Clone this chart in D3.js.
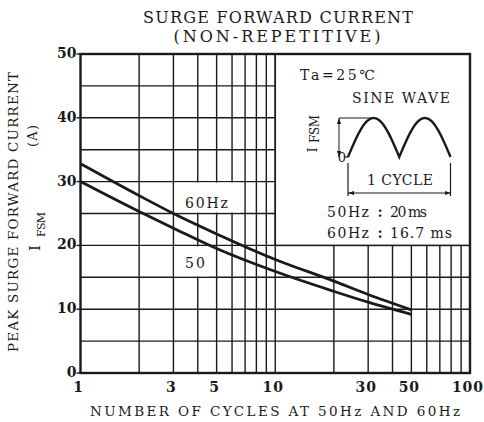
<!DOCTYPE html>
<html>
<head>
<meta charset="utf-8">
<script src="https://cdn.jsdelivr.net/npm/d3@7"></script>
<style>
  body { margin: 0; background: #fff; }
  svg text { font-family: "DejaVu Serif", "Liberation Serif", serif; fill: #1a1a1a; }
</style>
</head>
<body>
<svg id="chart" width="484" height="422"></svg>
<script>
// values
const cycles   = [1, 2, 3, 5, 10, 20, 30, 50];
const amps60   = [32.8, 27.8, 25.0, 21.8, 17.8, 14.4, 12.3, 9.9];
const amps50   = [30.0, 25.3, 22.7, 19.5, 15.9, 12.8, 11.1, 9.2];
const xTicks   = [1, 3, 5, 10, 30, 50, 100];
const xGrid    = [2, 3, 4, 5, 6, 7, 8, 9, 10, 20, 30, 40, 50, 60, 70, 80, 90];
const yTicks   = [0, 10, 20, 30, 40, 50];
const yGrid    = [5, 10, 15, 20, 25, 30, 35, 40, 45];

const svg = d3.select("#chart");
const x = d3.scaleLog().domain([1, 100]).range([80.5, 470]);
const y = d3.scaleLinear().domain([0, 50]).range([373, 54]);
const ink = "#1a1a1a";

// grid
svg.append("g").selectAll("line").data(xGrid).join("line")
  .attr("x1", d => x(d)).attr("x2", d => x(d))
  .attr("y1", y(0)).attr("y2", y(50))
  .attr("stroke", ink).attr("stroke-width", 1.4);
svg.append("g").selectAll("line").data(yGrid).join("line")
  .attr("x1", x(1)).attr("x2", x(100))
  .attr("y1", d => y(d)).attr("y2", d => y(d))
  .attr("stroke", ink).attr("stroke-width", 1.4);

// white boxes behind the curve labels
svg.append("rect")
  .attr("x", x(3) + 1).attr("y", y(30) + 1)
  .attr("width", x(6.6) - x(3) - 1).attr("height", y(25) - y(30) - 2)
  .attr("fill", "#fff");
svg.append("rect")
  .attr("x", x(3) + 1).attr("y", y(20) + 1)
  .attr("width", x(4.6) - x(3) - 1).attr("height", y(15) - y(20) - 2)
  .attr("fill", "#fff");

// inset box
svg.append("rect")
  .attr("x", x(10)).attr("y", y(50))
  .attr("width", x(100) - x(10)).attr("height", y(20) - y(50))
  .attr("fill", "#fff").attr("stroke", ink).attr("stroke-width", 1.6);

// frame
svg.append("rect")
  .attr("x", x(1)).attr("y", y(50))
  .attr("width", x(100) - x(1)).attr("height", y(0) - y(50))
  .attr("fill", "none").attr("stroke", ink).attr("stroke-width", 2.4);

// y ticks outward
svg.append("g").selectAll("line").data(yTicks).join("line")
  .attr("x1", x(1) - 4).attr("x2", x(1))
  .attr("y1", d => y(d)).attr("y2", d => y(d))
  .attr("stroke", ink).attr("stroke-width", 1.4);

// curves
const line = d3.line().x(d => x(d[0])).y(d => y(d[1])).curve(d3.curveMonotoneX);
[amps60, amps50].forEach(s => {
  svg.append("path")
    .attr("d", line(cycles.map((c, i) => [c, s[i]])))
    .attr("fill", "none").attr("stroke", ink).attr("stroke-width", 2.8);
});

// tick labels
svg.append("g").selectAll("text").data(yTicks).join("text")
  .attr("x", x(1) - 4).attr("y", d => y(d) + 4)
  .attr("text-anchor", "end").attr("font-size", 14).attr("font-weight", "bold")
  .text(d => d);
svg.append("g").selectAll("text").data(xTicks).join("text")
  .attr("x", d => x(d) - 2).attr("y", 392)
  .attr("text-anchor", "middle").attr("font-size", 14).attr("font-weight", "bold")
  .attr("letter-spacing", 1)
  .text(d => d);

// titles
svg.append("text").attr("x", 278).attr("y", 23).attr("text-anchor", "middle")
  .attr("font-size", 16).attr("textLength", 270).attr("lengthAdjust", "spacing")
  .text("SURGE FORWARD CURRENT");
svg.append("text").attr("x", 277).attr("y", 42).attr("text-anchor", "middle")
  .attr("font-size", 16).attr("textLength", 207).attr("lengthAdjust", "spacing")
  .text("(NON-REPETITIVE)");
svg.append("text").attr("x", 275).attr("y", 416).attr("text-anchor", "middle")
  .attr("font-size", 13.5).attr("textLength", 370).attr("lengthAdjust", "spacing")
  .text("NUMBER OF CYCLES AT 50Hz AND 60Hz");

// y axis title
svg.append("text").attr("transform", "translate(17.5,212) rotate(-90)")
  .attr("text-anchor", "middle").attr("font-size", 13.5)
  .attr("textLength", 280).attr("lengthAdjust", "spacing")
  .text("PEAK SURGE FORWARD CURRENT");
svg.append("text").attr("transform", "translate(40,248) rotate(-90)")
  .attr("text-anchor", "middle").attr("font-size", 15).text("I");
svg.append("text").attr("transform", "translate(45,237) rotate(-90)")
  .attr("text-anchor", "start").attr("font-size", 11)
  .attr("textLength", 25).attr("lengthAdjust", "spacing").text("FSM");
svg.append("text").attr("transform", "translate(37,136) rotate(-90)")
  .attr("text-anchor", "middle").attr("font-size", 13)
  .attr("textLength", 22).attr("lengthAdjust", "spacing").text("(A)");

// curve labels
svg.append("text").attr("x", 185).attr("y", 208).attr("font-size", 14)
  .attr("textLength", 43).attr("lengthAdjust", "spacing").text("60Hz");
svg.append("text").attr("x", 185).attr("y", 268).attr("font-size", 14)
  .attr("textLength", 20).attr("lengthAdjust", "spacing").text("50");

// inset contents
const defs = svg.append("defs");
defs.append("marker").attr("id", "arr").attr("viewBox", "0 0 10 10")
  .attr("refX", 10).attr("refY", 5).attr("markerWidth", 6).attr("markerHeight", 6)
  .attr("orient", "auto-start-reverse").attr("markerUnits", "userSpaceOnUse")
  .append("path").attr("d", "M0,1.5 L10,5 L0,8.5 Z").attr("fill", ink);

svg.append("text").attr("x", 300).attr("y", 80).attr("font-size", 14)
  .attr("textLength", 75).attr("lengthAdjust", "spacing").text("Ta=25℃");
svg.append("text").attr("x", 352).attr("y", 103).attr("font-size", 14)
  .attr("textLength", 98).attr("lengthAdjust", "spacing").text("SINE WAVE");

const wx = d3.scaleLinear().domain([0, 1]).range([348, 450.5]);
const wy = d3.scaleLinear().domain([0, 1]).range([157, 118]);
const wave = d3.line().x(t => wx(t)).y(t => wy(Math.abs(Math.sin(2 * Math.PI * t))));
svg.append("path").attr("d", wave(d3.range(0, 1.0001, 0.01)))
  .attr("fill", "none").attr("stroke", ink).attr("stroke-width", 2.4);
svg.append("line").attr("x1", 339).attr("x2", wx(0.25)).attr("y1", wy(1)).attr("y2", wy(1))
  .attr("stroke", ink).attr("stroke-width", 1);
svg.append("line").attr("x1", 344).attr("x2", wx(0)).attr("y1", wy(0)).attr("y2", wy(0))
  .attr("stroke", ink).attr("stroke-width", 1.2);
svg.append("line").attr("x1", 339).attr("x2", 339).attr("y1", wy(1)).attr("y2", wy(0))
  .attr("stroke", ink).attr("stroke-width", 1)
  .attr("marker-start", "url(#arr)").attr("marker-end", "url(#arr)");
svg.append("text").attr("transform", "translate(317,150) rotate(-90)")
  .attr("text-anchor", "middle").attr("font-size", 13).text("I");
svg.append("text").attr("transform", "translate(319,143) rotate(-90)")
  .attr("text-anchor", "start").attr("font-size", 12)
  .attr("textLength", 28).attr("lengthAdjust", "spacing").text("FSM");
svg.append("text").attr("x", 346).attr("y", 162).attr("text-anchor", "end")
  .attr("font-size", 13).text("0");

[wx(0), wx(1)].forEach(px => {
  svg.append("line").attr("x1", px).attr("x2", px).attr("y1", 163).attr("y2", 196)
    .attr("stroke", ink).attr("stroke-width", 1.2);
});
svg.append("line").attr("x1", wx(0)).attr("x2", wx(1)).attr("y1", 193).attr("y2", 193)
  .attr("stroke", ink).attr("stroke-width", 1)
  .attr("marker-start", "url(#arr)").attr("marker-end", "url(#arr)");
svg.append("text").attr("x", 400).attr("y", 185).attr("text-anchor", "middle")
  .attr("font-size", 14).attr("textLength", 66).attr("lengthAdjust", "spacing")
  .text("1 CYCLE");

[["50Hz", "20 ms", 217, 37], ["60Hz", "16.7 ms", 238, 62]].forEach(([f, t, by, tl]) => {
  svg.append("text").attr("x", 327).attr("y", by).attr("font-size", 14)
    .attr("textLength", 42).attr("lengthAdjust", "spacing").text(f);
  svg.append("text").attr("x", 380).attr("y", by).attr("text-anchor", "middle")
    .attr("font-size", 14).attr("font-weight", "bold").text(":");
  svg.append("text").attr("x", 390).attr("y", by).attr("font-size", 14)
    .attr("textLength", tl).attr("lengthAdjust", "spacing").text(t);
});
</script>
</body>
</html>
